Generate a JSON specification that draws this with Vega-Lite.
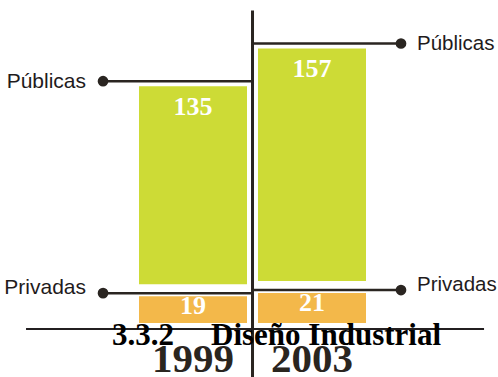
{
  "$schema": "https://vega.github.io/schema/vega-lite/v6.json",
  "width": 498,
  "height": 377,
  "autosize": "none",
  "padding": 0,
  "background": "white",
  "config": {"view": {"stroke": null}, "axis": {"disable": true}},
  "data": {
    "values": [
      {"year": "1999", "tipo": "Privadas", "value": 19},
      {"year": "1999", "tipo": "Públicas", "value": 135},
      {"year": "2003", "tipo": "Privadas", "value": 21},
      {"year": "2003", "tipo": "Públicas", "value": 157}
    ]
  },
  "transform": [
    {"stack": "value", "groupby": ["year"], "sort": [{"field": "tipo", "order": "ascending"}], "as": ["v0", "v1"]}
  ],
  "layer": [
    {
      "transform": [{"filter": "datum.tipo === 'Privadas'"}],
      "mark": {"type": "bar", "color": "#f3b84a", "yOffset": 3},
      "encoding": {
        "x": {"field": "year", "type": "nominal", "axis": null,
              "scale": {"domain": ["1999", "2003"], "range": [139, 366], "paddingInner": 0.0924, "paddingOuter": 0}},
        "y": {"field": "v1", "type": "quantitative", "axis": null,
              "scale": {"domain": [-34.4, 205.7], "nice": false, "zero": false}},
        "y2": {"field": "v0"}
      }
    },
    {
      "transform": [{"filter": "datum.tipo === 'Públicas'"}],
      "mark": {"type": "bar", "color": "#cddb36", "yOffset": 5, "y2Offset": -9},
      "encoding": {
        "x": {"field": "year", "type": "nominal"},
        "y": {"field": "v1", "type": "quantitative"},
        "y2": {"field": "v0"}
      }
    },
    {
      "data": {"values": [{}]},
      "mark": {"type": "rule", "color": "#2a2521", "strokeWidth": 3},
      "encoding": {
        "x": {"datum": "1999", "type": "nominal", "bandPosition": 1.051},
        "y": {"datum": 199, "type": "quantitative"},
        "y2": {"datum": -34.4}
      }
    },
    {
      "transform": [{"filter": "datum.year === '1999'"}],
      "mark": {"type": "rule", "color": "#2a2521", "strokeWidth": 2.5},
      "encoding": {
        "x": {"field": "year", "type": "nominal", "bandPosition": -0.333},
        "x2": {"field": "year", "bandPosition": 1.051},
        "y": {"field": "v1", "type": "quantitative"}
      }
    },
    {
      "transform": [{"filter": "datum.year === '2003'"}],
      "mark": {"type": "rule", "color": "#2a2521", "strokeWidth": 2.5},
      "encoding": {
        "x": {"field": "year", "type": "nominal", "bandPosition": -0.051},
        "x2": {"field": "year", "bandPosition": 1.324},
        "y": {"field": "v1", "type": "quantitative"}
      }
    },
    {
      "transform": [{"filter": "datum.year === '1999'"}],
      "mark": {"type": "point", "shape": "circle", "filled": true, "opacity": 1, "size": 115, "color": "#2a2521"},
      "encoding": {
        "x": {"field": "year", "type": "nominal", "bandPosition": -0.333},
        "y": {"field": "v1", "type": "quantitative"}
      }
    },
    {
      "transform": [{"filter": "datum.year === '2003'"}],
      "mark": {"type": "point", "shape": "circle", "filled": true, "opacity": 1, "size": 115, "color": "#2a2521"},
      "encoding": {
        "x": {"field": "year", "type": "nominal", "bandPosition": 1.324},
        "y": {"field": "v1", "type": "quantitative"}
      }
    },
    {
      "transform": [{"filter": "datum.year === '1999'"}],
      "mark": {"type": "text", "align": "right", "baseline": "alphabetic", "dx": -17,
               "dy": {"expr": "datum.tipo === 'Privadas' ? 1 : 7"},
               "font": "Liberation Sans", "fontSize": 21, "color": "#1f1b1c"},
      "encoding": {
        "x": {"field": "year", "type": "nominal", "bandPosition": -0.333},
        "y": {"field": "v1", "type": "quantitative"},
        "text": {"field": "tipo"}
      }
    },
    {
      "transform": [{"filter": "datum.year === '2003'"}],
      "mark": {"type": "text", "align": "left", "baseline": "alphabetic", "dx": 16,
               "dy": {"expr": "datum.tipo === 'Privadas' ? 1 : 7"},
               "font": "Liberation Sans", "fontSize": 20.5, "color": "#1f1b1c"},
      "encoding": {
        "x": {"field": "year", "type": "nominal", "bandPosition": 1.324},
        "y": {"field": "v1", "type": "quantitative"},
        "text": {"field": "tipo"}
      }
    },
    {
      "mark": {"type": "text", "align": "center", "baseline": "alphabetic",
               "dy": {"expr": "datum.tipo === 'Privadas' ? 21 : 34"},
               "font": "Liberation Serif", "fontWeight": "bold", "fontSize": 26, "color": "white"},
      "encoding": {
        "x": {"field": "year", "type": "nominal"},
        "y": {"field": "v1", "type": "quantitative"},
        "text": {"field": "value"}
      }
    },
    {
      "data": {"values": [{}]},
      "mark": {"type": "rule", "color": "#231f20", "strokeWidth": 2},
      "encoding": {
        "x": {"datum": "1999", "type": "nominal", "bandPosition": -1.046},
        "x2": {"datum": "2003", "bandPosition": 2.093},
        "y": {"datum": -3.8, "type": "quantitative"}
      }
    },
    {
      "data": {"values": [{}]},
      "mark": {"type": "text", "align": "left", "baseline": "alphabetic",
               "font": "Liberation Serif", "fontWeight": "bold", "fontSize": 31, "color": "#000000"},
      "encoding": {
        "x": {"datum": "1999", "type": "nominal", "bandPosition": -0.25},
        "y": {"datum": -14, "type": "quantitative"},
        "text": {"value": "3.3.2"}
      }
    },
    {
      "data": {"values": [{}]},
      "mark": {"type": "text", "align": "left", "baseline": "alphabetic",
               "font": "Liberation Serif", "fontWeight": "bold", "fontSize": 31, "color": "#000000"},
      "encoding": {
        "x": {"datum": "1999", "type": "nominal", "bandPosition": 0.667},
        "y": {"datum": -14, "type": "quantitative"},
        "text": {"value": "Diseño Industrial"}
      }
    },
    {
      "transform": [{"filter": "datum.tipo === 'Públicas'"}],
      "mark": {"type": "text", "align": "center", "baseline": "alphabetic",
               "font": "Liberation Serif", "fontWeight": "bold", "fontSize": 41, "color": "#2a251f"},
      "encoding": {
        "x": {"field": "year", "type": "nominal"},
        "y": {"datum": -31.2, "type": "quantitative"},
        "text": {"field": "year"}
      }
    }
  ]
}
